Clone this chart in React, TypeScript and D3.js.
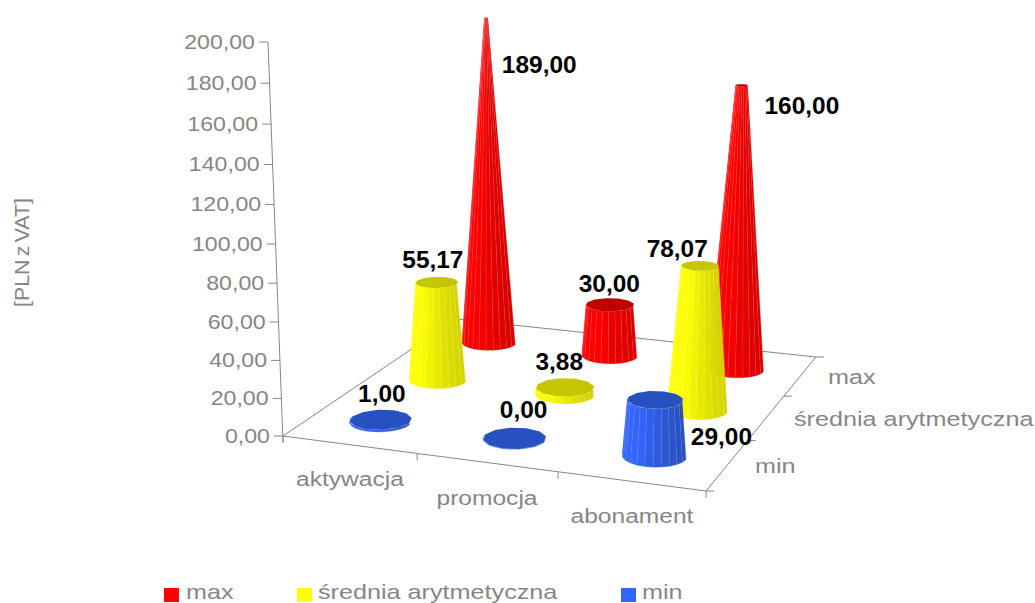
import React from "react";
import * as d3 from "d3";

// Chart content
const categories = ["aktywacja", "promocja", "abonament"];
const seriesNames = ["min", "średnia arytmetyczna", "max"];
const minValues = [1, 0, 29];
const meanValues = [55.17, 3.88, 78.07];
const maxValues = [189, 30, 160];
const valueTicks = [0, 20, 40, 60, 80, 100, 120, 140, 160, 180, 200];
const axisTitle = "[PLN z VAT]";

// Colours for each series: lit side, shaded side, cap
const palette: Record<string, { lit: string; shade: string; cap: string; seam: string }> = {
  max: { lit: "#ff0000", shade: "#d80000", cap: "#c00000", seam: "#ffb0b0" },
  "średnia arytmetyczna": { lit: "#ffff00", shade: "#d4d400", cap: "#c6c600", seam: "#ffffc0" },
  min: { lit: "#3366ff", shade: "#2850c0", cap: "#2750c0", seam: "#a0b8ff" },
};
const legendSwatch: Record<string, string> = { max: "#ff0000", "średnia arytmetyczna": "#ffff00", min: "#3366ff" };

const GREY = "#868686";
const WIDTH = 1035;
const HEIGHT = 603;

// Floor corners on screen, in the order (0,0) (1,0) (1,1) (0,1), and the rise of the value axis
const floor = [[283, 436], [706, 491], [816, 357], [456, 319]];
const axisTop = [268, 42];
const riseDepth = -0.05;

function buildProjection() {
  const [[x0, y0], [x1, y1], [x2, y2], [x3, y3]] = floor;
  const dx1 = x1 - x2, dx2 = x3 - x2, sx = x0 - x1 + x2 - x3;
  const dy1 = y1 - y2, dy2 = y3 - y2, sy = y0 - y1 + y2 - y3;
  const den = dx1 * dy2 - dx2 * dy1;
  const g = (sx * dy2 - dx2 * sy) / den;
  const h = (dx1 * sy - sx * dy1) / den;
  const a = x1 - x0 + g * x1, b = x3 - x0 + h * x3;
  const d = y1 - y0 + g * y1, e = y3 - y0 + h * y3;
  const ax = axisTop[0] * (1 + riseDepth) - x0;
  const ay = axisTop[1] * (1 + riseDepth) - y0;
  return (u: number, w: number, v: number): [number, number] => {
    const q = g * u + h * w + 1 + riseDepth * v;
    return [(a * u + b * w + x0 + ax * v) / q, (d * u + e * w + y0 + ay * v) / q];
  };
}

const project = buildProjection();
const uScale = d3.scalePoint<string>().domain(categories).range([0, 1]).padding(0.5);
const wScale = d3.scalePoint<string>().domain(seriesNames).range([0, 1]).padding(0.5);
const vScale = d3.scaleLinear().domain([0, 200]).range([0, 1]);

const polygon = d3.line<[number, number]>().curve(d3.curveLinearClosed);
const format = d3.formatLocale({ decimal: ",", thousands: " ", grouping: [3], currency: ["", ""] }).format(".2f");

const RADIUS_U = 0.072;
const RADIUS_W = 0.072;
const SIDES = 24;

// Where each value label sits relative to the top of its mark
const labelOffset: Record<string, [number, number]> = {
  "max|aktywacja": [53, 55],
  "max|promocja": [-1, -13],
  "max|abonament": [60, 29],
  "średnia arytmetyczna|aktywacja": [-4, -14],
  "średnia arytmetyczna|promocja": [-6, -17],
  "średnia arytmetyczna|abonament": [-23, -9],
  "min|aktywacja": [1, -18],
  "min|promocja": [9, -20],
  "min|abonament": [66, 45],
};

function Label(props: { x: number; y: number; text: string; anchor?: string; size?: number; stretch?: number; bold?: boolean; fill?: string; wordSpacing?: number }) {
  const { x, y, text, anchor = "start", size = 21, stretch = 1.2, bold = false, fill = GREY, wordSpacing } = props;
  return (
    <text
      transform={`translate(${x},${y}) scale(${stretch},1)`}
      textAnchor={anchor}
      fontFamily="'Liberation Sans', Arial, sans-serif"
      fontSize={size}
      fontWeight={bold ? 700 : 400}
      fill={fill}
      wordSpacing={wordSpacing}
    >
      {text}
    </text>
  );
}

function Cone({ series, category, value }: { series: string; category: string; value: number }) {
  const colours = palette[series];
  const u = uScale(category)!;
  const w = wScale(series)!;
  const v = vScale(value);
  const taper = 1 - v;
  const angles = d3.range(SIDES).map((i) => (i / SIDES) * Math.PI * 2);
  const ring = (level: number, factor: number) =>
    angles.map((t) => project(u + RADIUS_U * factor * Math.cos(t), w + RADIUS_W * factor * Math.sin(t), level));
  const base = ring(0, 1);
  const top = ring(v, taper);
  const shadeOf = d3.interpolateRgb(colours.lit, colours.shade);

  const facets = angles
    .map((t, i) => {
      const j = (i + 1) % SIDES;
      const mid = t + Math.PI / SIDES;
      const quad: [number, number][] = [base[i], base[j], top[j], top[i]];
      return { quad, facing: Math.sin(mid) < 0.12, tone: Math.min(1, Math.max(0, (Math.cos(mid) + 0.25) / 1.25)), edge: [base[i], top[i]], i };
    })
    .filter((f) => f.facing);

  // The cap is a coarser polygon than the wall, giving it a slightly faceted rim
  const capOutline = top.filter((_, i) => i % 2 === 0);

  return (
    <g>
      {facets.map((f) => (
        <path key={f.i} d={polygon(f.quad)!} fill={shadeOf(f.tone)} stroke={shadeOf(f.tone)} strokeWidth={0.3} />
      ))}
      {v > 0.02 &&
        facets.map((f) => (
          <line
            key={`s${f.i}`}
            x1={f.edge[0][0]}
            y1={f.edge[0][1]}
            x2={f.edge[1][0]}
            y2={f.edge[1][1]}
            stroke={colours.seam}
            strokeOpacity={0.22}
            strokeWidth={0.7}
          />
        ))}
      <path d={polygon(capOutline)!} fill={colours.cap} />
    </g>
  );
}

export default function App() {
  const seriesValues: Record<string, number[]> = { min: minValues, "średnia arytmetyczna": meanValues, max: maxValues };
  const backToFront = [...seriesNames].reverse();
  const marks = backToFront.flatMap((s) => categories.map((c, i) => ({ series: s, category: c, value: seriesValues[s][i] })));

  const corners = floor.map(([x, y]) => `${x},${y}`).join(" ");
  const edgeTicks = [0, 1 / 3, 2 / 3, 1];

  return (
    <svg width={WIDTH} height={HEIGHT} style={{ position: "absolute", left: 0, top: 0, background: "#fff" }}>
      {/* floor outline */}
      <polygon points={corners} fill="none" stroke={GREY} strokeWidth={1} />

      {/* value axis */}
      <line
        x1={project(0, 0, 0)[0]}
        y1={project(0, 0, 0)[1] + 6}
        x2={axisTop[0]}
        y2={axisTop[1]}
        stroke={GREY}
      />
      {valueTicks.map((t) => {
        const [x, y] = project(0, 0, vScale(t));
        return (
          <g key={t}>
            <line x1={x - 9} x2={x} y1={y} y2={y} stroke={GREY} />
            <Label x={x - 13} y={y + 6.5} text={format(t)} anchor="end" size={20.5} stretch={1.13} />
          </g>
        );
      })}

      {/* category ticks along the front edge */}
      {edgeTicks.map((t) => {
        const [x, y] = project(t, 0, 0);
        return <line key={t} x1={x} x2={x} y1={y} y2={y + 7} stroke={GREY} />;
      })}
      {/* series ticks along the right edge */}
      {edgeTicks.map((t) => {
        const [x, y] = project(1, t, 0);
        return <line key={t} x1={x} x2={x + 8} y1={y} y2={y} stroke={GREY} />;
      })}

      {marks.map((m) => (
        <Cone key={`${m.series}|${m.category}`} {...m} />
      ))}

      {/* value labels */}
      {marks.map((m) => {
        const [x, y] = project(uScale(m.category)!, wScale(m.series)!, vScale(m.value));
        const [ox, oy] = labelOffset[`${m.series}|${m.category}`];
        return (
          <Label
            key={`l${m.series}|${m.category}`}
            x={x + ox}
            y={y + oy}
            text={format(m.value)}
            anchor="middle"
            size={23.5}
            stretch={1.04}
            bold
            fill="#000"
          />
        );
      })}

      {/* category labels */}
      {categories.map((c, i) => (
        <Label key={c} x={[350, 487, 632][i]} y={[486, 505, 523][i]} text={c} anchor="middle" stretch={1.17} />
      ))}

      {/* series labels */}
      {seriesNames.map((s, i) => (
        <Label key={s} x={[755, 794, 828][i]} y={[473, 426, 384][i]} text={s} />
      ))}

      {/* axis title */}
      <g transform="translate(29,307) rotate(-90)">
        <Label x={0} y={0} text={axisTitle} size={20.5} stretch={1.04} wordSpacing={-2.5} />
      </g>

      {/* legend */}
      {[...seriesNames].reverse().map((s, i) => (
        <g key={s}>
          <rect x={[164, 297, 621][i]} y={588} width={15} height={14} fill={legendSwatch[s]} />
          <Label x={[186, 318, 642][i]} y={598.5} text={s} size={20} stretch={1.26} />
        </g>
      ))}
    </svg>
  );
}
